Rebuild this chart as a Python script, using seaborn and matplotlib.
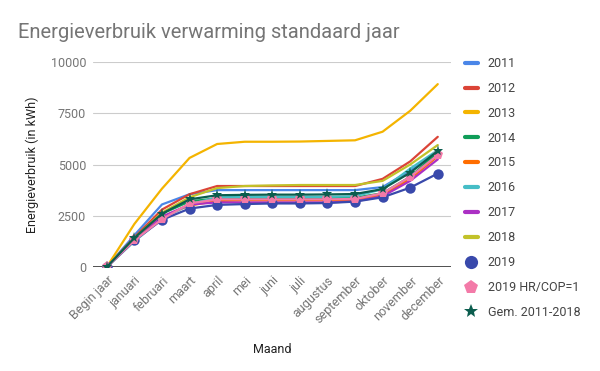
import matplotlib
matplotlib.use("Agg")
import matplotlib.pyplot as plt
import seaborn as sns
import numpy as np
import pandas as pd

maanden = ['Begin jaar', 'januari', 'februari', 'maart', 'april', 'mei', 'juni', 'juli',
           'augustus', 'september', 'oktober', 'november', 'december']

v2011 = [0, 1550, 3050, 3550, 3750, 3750, 3750, 3750, 3750, 3750, 3900, 4700, 5550]
v2012 = [0, 1450, 2800, 3550, 3950, 3950, 3950, 3950, 3950, 3950, 4300, 5150, 6350]
v2013 = [0, 2100, 3820, 5320, 6000, 6110, 6110, 6120, 6150, 6180, 6600, 7620, 8920]
v2014 = [0, 1400, 2600, 3200, 3350, 3350, 3350, 3350, 3350, 3380, 3600, 4400, 5600]
v2015 = [0, 1350, 2450, 3000, 3220, 3250, 3250, 3250, 3250, 3280, 3500, 4300, 5400]
v2016 = [0, 1250, 2350, 3050, 3400, 3420, 3420, 3420, 3420, 3450, 3800, 4800, 5700]
v2017 = [0, 1300, 2450, 3050, 3150, 3150, 3150, 3150, 3150, 3200, 3450, 4200, 5250]
v2018 = [0, 1400, 2650, 3400, 3850, 3950, 3980, 4000, 4000, 4000, 4200, 5000, 5950]
v2019 = [0, 1300, 2300, 2850, 3030, 3070, 3100, 3100, 3120, 3190, 3400, 3870, 4560]
v2019_hr = [0, 1300, 2330, 3100, 3300, 3300, 3300, 3300, 3300, 3320, 3600, 4400, 5460]
gem = [0, 1420, 2600, 3300, 3500, 3520, 3530, 3530, 3540, 3560, 3800, 4600, 5660]

series = {
    '2011': v2011, '2012': v2012, '2013': v2013, '2014': v2014, '2015': v2015,
    '2016': v2016, '2017': v2017, '2018': v2018, '2019': v2019,
    '2019 HR/COP=1': v2019_hr, 'Gem. 2011-2018': gem,
}
kleuren = {
    '2011': '#4a86e8', '2012': '#db4437', '2013': '#f4b400', '2014': '#0f9d58',
    '2015': '#ff6d00', '2016': '#46bdc6', '2017': '#ab30c4', '2018': '#c2c22a',
    '2019': '#3949ab', '2019 HR/COP=1': '#f37aa8', 'Gem. 2011-2018': '#0b5d4e',
}
markers = {'2019': 'o', '2019 HR/COP=1': 'p', 'Gem. 2011-2018': '*'}
msizes = {'2019': 7.5, '2019 HR/COP=1': 8, 'Gem. 2011-2018': 8}

rows = []
for naam, vals in series.items():
    for i, v in enumerate(vals):
        rows.append({'serie': naam, 'pos': i, 'kWh': v})
df = pd.DataFrame(rows)

sns.set_style('white')
plt.rcParams['font.family'] = ['Roboto', 'DejaVu Sans']

fig = plt.figure(figsize=(6, 3.71), dpi=100)
ax = fig.add_axes([93 / 600, 1 - 267 / 371, 358 / 600, 205 / 371])

handles = []
for naam in series:
    d = df[df['serie'] == naam]
    m = markers.get(naam)
    sns.lineplot(data=d, x='pos', y='kWh', ax=ax, color=kleuren[naam], linewidth=1.6,
                 marker=m if m else None, markersize=msizes.get(naam, 0),
                 markeredgewidth=0, legend=False, zorder=3)
    if m:
        h = plt.Line2D([], [], color=kleuren[naam], marker=m, linestyle='none',
                       markersize=msizes[naam] + 2, markeredgewidth=0)
    else:
        h = plt.Line2D([], [], color=kleuren[naam], linewidth=3)
    handles.append(h)

ax.set_xlim(-0.5, 12.48)
ax.set_ylim(0, 10000)
ax.set_yticks([0, 2500, 5000, 7500, 10000])
ax.set_xticks(range(len(maanden)))
ax.set_xticklabels(maanden, rotation=45, ha='right', rotation_mode='anchor')
ax.grid(axis='y', color='#cccccc', linewidth=0.8)
ax.set_axisbelow(True)
for s in ax.spines.values():
    s.set_visible(False)
ax.axhline(0, color='#333333', linewidth=1.2, zorder=2)
ax.tick_params(axis='both', length=0, labelsize=9, colors='#757575', pad=5)
ax.set_xlabel('Maand', fontsize=9, color='#222222', labelpad=12)
ax.set_ylabel('Energieverbruik (in kWh)', fontsize=9, color='#222222', labelpad=8)

fig.text(18 / 600, 1 - 32 / 371, 'Energieverbruik verwarming standaard jaar',
         fontsize=14.5, color='#757575', va='center', ha='left')

fig.legend(handles, list(series.keys()), loc='upper left', bbox_to_anchor=(460 / 600, 1 - 52 / 371),
           frameon=False, fontsize=9, labelcolor='#444444', handlelength=1.0,
           handletextpad=0.8, labelspacing=0.95, borderaxespad=0)

fig.savefig('out.png', dpi=100)
